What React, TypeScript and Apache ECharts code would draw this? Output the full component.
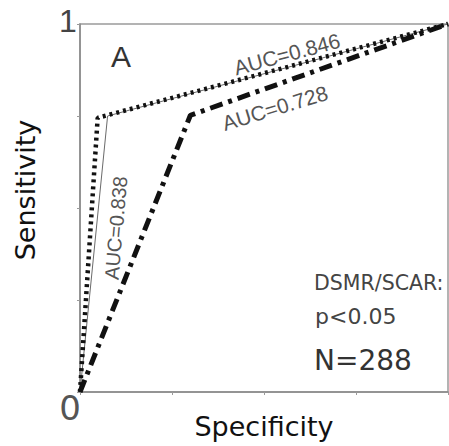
import React, { useEffect, useRef } from "react";
import * as echarts from "echarts";

// ROC curves: x = specificity axis value, y = sensitivity
const xDotted = [0, 0.048, 1];
const yDotted = [0, 0.745, 1];
const xSolid = [0, 0.075, 1];
const ySolid = [0, 0.75, 1];
const xDashDot = [0, 0.3, 1];
const yDashDot = [0, 0.752, 1];

const aucLabels = ["AUC=0.846", "AUC=0.728", "AUC=0.838"];
const axisEndLabels = ["0", "1"];
const statLines = ["DSMR/SCAR:", "p<0.05", "N=288"];

const pairs = (xs: number[], ys: number[]) => xs.map((x, i) => [x, ys[i]]);

export default function App() {
  const ref = useRef<HTMLDivElement>(null);
  useEffect(() => {
    if (!ref.current) return;
    const chart = echarts.init(ref.current, null, { renderer: "svg" });
    const axisCommon = {
      type: "value" as const,
      min: 0,
      max: 1,
      interval: 0.25,
      axisLine: { show: true, lineStyle: { color: "#8a8a8a", width: 1.5 } },
      axisTick: { show: true, inside: false, length: 3, lineStyle: { color: "#9a9a9a" } },
      axisLabel: { show: false },
      splitLine: { show: false },
    };
    chart.setOption({
      animation: false,
      backgroundColor: "#ffffff",
      grid: {
        left: 80,
        right: 1,
        top: 24,
        bottom: 54,
        show: true,
        borderColor: "#9a9a9a",
        borderWidth: 1.5,
      },
      xAxis: axisCommon,
      yAxis: axisCommon,
      series: [
        {
          type: "line",
          data: pairs(xSolid, ySolid),
          symbol: "none",
          clip: false,
          lineStyle: { color: "#6a6a6a", width: 1 },
          z: 3,
        },
        {
          type: "line",
          data: pairs(xDotted, yDotted),
          symbol: "none",
          clip: false,
          lineStyle: { color: "#111", width: 4.5, type: [3, 4], cap: "butt" },
          z: 4,
        },
        {
          type: "line",
          data: pairs(xDashDot, yDashDot),
          symbol: "none",
          clip: false,
          lineStyle: { color: "#111", width: 5, type: [13, 6, 4, 6], cap: "butt" },
          z: 4,
        },
      ],
      graphic: [
        {
          type: "text",
          x: 68,
          y: 21,
          style: { text: axisEndLabels[1], fontSize: 32, fontFamily: "Liberation Sans", fill: "#444", align: "center", verticalAlign: "middle" },
        },
        {
          type: "text",
          x: 70,
          y: 408,
          style: { text: axisEndLabels[0], fontSize: 34, fontFamily: "DejaVu Sans", fill: "#555", align: "center", verticalAlign: "middle" },
        },
        {
          type: "text",
          x: 121,
          y: 56,
          style: { text: "A", fontSize: 30, fontFamily: "Liberation Sans", fill: "#333", align: "center", verticalAlign: "middle" },
        },
        {
          type: "text",
          x: 287,
          y: 54,
          rotation: (15 * Math.PI) / 180,
          style: { text: aucLabels[0], fontSize: 21, fontFamily: "Liberation Sans", fill: "#555", align: "center", verticalAlign: "middle" },
        },
        {
          type: "text",
          x: 275,
          y: 108,
          rotation: (17 * Math.PI) / 180,
          style: { text: aucLabels[1], fontSize: 21, fontFamily: "Liberation Sans", fill: "#555", align: "center", verticalAlign: "middle" },
        },
        {
          type: "text",
          x: 116,
          y: 228,
          rotation: (85 * Math.PI) / 180,
          style: { text: aucLabels[2], fontSize: 20, fontFamily: "Liberation Sans", fill: "#555", align: "center", verticalAlign: "middle" },
        },
        {
          type: "text",
          x: 314,
          y: 293,
          style: { text: statLines[0], fontSize: 20.5, fontFamily: "DejaVu Sans", fill: "#444", align: "left", verticalAlign: "bottom" },
        },
        {
          type: "text",
          x: 315,
          y: 327,
          style: { text: statLines[1], fontSize: 22, fontFamily: "DejaVu Sans", fill: "#444", align: "left", verticalAlign: "bottom" },
        },
        {
          type: "text",
          x: 314,
          y: 374,
          style: { text: statLines[2], fontSize: 28, fontFamily: "DejaVu Sans", fill: "#333", align: "left", verticalAlign: "bottom" },
        },
        {
          type: "text",
          x: 264,
          y: 426,
          style: { text: "Specificity", fontSize: 27, fontFamily: "DejaVu Sans", fill: "#111", align: "center", verticalAlign: "middle" },
        },
        {
          type: "text",
          x: 25,
          y: 190,
          rotation: Math.PI / 2,
          style: { text: "Sensitivity", fontSize: 27, fontFamily: "DejaVu Sans", fill: "#111", align: "center", verticalAlign: "middle" },
        },
      ],
    });
    return () => chart.dispose();
  }, []);
  return (
    <div
      ref={ref}
      style={{ position: "fixed", left: 0, top: 0, width: 449, height: 446 }}
    />
  );
}
